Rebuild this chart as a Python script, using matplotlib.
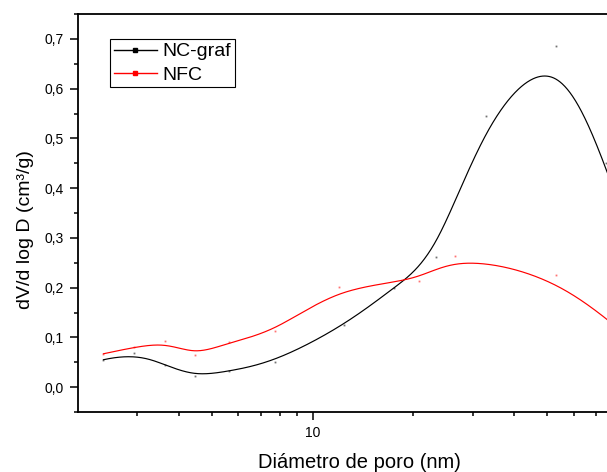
import numpy as np
import matplotlib
matplotlib.use("Agg")
import matplotlib.pyplot as plt
from matplotlib.lines import Line2D
from matplotlib.ticker import FixedLocator, FixedFormatter, NullFormatter

plt.rcParams['font.family'] = ['Liberation Sans', 'DejaVu Sans']

# Pore size distribution (BJH), pore diameter in nm
nc_x = [2.38, 2.93, 3.63, 4.46, 5.65, 7.74, 12.45, 17.5, 23.3, 33.0, 53.1, 75.0, 100.0, 140.0]
nc_y = [0.055, 0.0685, 0.045, 0.022, 0.032, 0.051, 0.124, 0.2, 0.262, 0.544, 0.685, 0.45, 0.2, 0.05]

nfc_x = [2.38, 2.93, 3.63, 4.46, 5.65, 7.74, 12.0, 20.8, 26.5, 53.1, 80.0, 115.0]
nfc_y = [0.067, 0.08, 0.092, 0.064, 0.09, 0.112, 0.2016, 0.2125, 0.264, 0.225, 0.125, 0.03]

series_labels = ["NC-graf", "NFC"]
y_ticks = [0.0, 0.1, 0.2, 0.3, 0.4, 0.5, 0.6, 0.7]
y_ticklabels = ["0,0", "0,1", "0,2", "0,3", "0,4", "0,5", "0,6", "0,7"]
x_ticks = [10]
x_ticklabels = ["10"]


def bspline(px, py, n=1200, k=3):
    """Clamped uniform B-spline using the data points as control points
    (computed in log10(x) so it follows the log axis)."""
    lx = np.log10(np.asarray(px, float))
    py = np.asarray(py, float)
    m = len(lx)
    knots = np.concatenate([np.zeros(k), np.linspace(0, 1, m - k + 1), np.ones(k)])
    t = np.linspace(0, 1, n)
    t[-1] -= 1e-9
    N = np.array([(t >= knots[i]) & (t < knots[i + 1]) for i in range(len(knots) - 1)],
                 dtype=float).T
    for d in range(1, k + 1):
        Nn = np.zeros((n, len(knots) - 1 - d))
        for i in range(len(knots) - 1 - d):
            a = knots[i + d] - knots[i]
            b = knots[i + d + 1] - knots[i + 1]
            term = np.zeros(n)
            if a > 0:
                term += (t - knots[i]) / a * N[:, i]
            if b > 0:
                term += (knots[i + d + 1] - t) / b * N[:, i + 1]
            Nn[:, i] = term
        N = Nn
    return 10 ** (N @ lx), N @ py


fig = plt.figure(figsize=(6.07, 4.72), dpi=100)
ax = fig.add_axes([78 / 607, 1 - 412 / 472, 570 / 607, 398 / 472])

for xs, ys, col in [(nc_x, nc_y, "black"), (nfc_x, nfc_y, "red")]:
    cx, cy = bspline(xs, ys)
    ax.plot(cx, cy, color=col, lw=0.85, solid_capstyle="round")
    ax.plot(xs, ys, ls="none", marker="s", ms=1.3, mew=0, color=col, alpha=0.55)

ax.set_xscale("log")
ax.set_xlim(2, 100)
ax.set_ylim(-0.05, 0.75)

ax.xaxis.set_major_locator(FixedLocator(x_ticks))
ax.xaxis.set_major_formatter(FixedFormatter(x_ticklabels))
ax.xaxis.set_minor_locator(FixedLocator([3, 4, 5, 6, 7, 8, 9, 20, 30, 40, 50, 60, 70, 80, 90]))
ax.xaxis.set_minor_formatter(NullFormatter())
ax.yaxis.set_major_locator(FixedLocator(y_ticks))
ax.yaxis.set_major_formatter(FixedFormatter(y_ticklabels))
ax.yaxis.set_minor_locator(FixedLocator(np.arange(-0.05, 0.76, 0.1)))

for s in ["left", "bottom", "top"]:
    ax.spines[s].set_linewidth(1.3)
ax.spines["right"].set_visible(False)
ax.tick_params(which="major", direction="out", length=6, width=1.1, labelsize=10, pad=4,
               top=False, right=False)
ax.tick_params(which="minor", direction="out", length=3.2, width=1.1, top=False, right=False)

fig.text(359 / 607, 1 - 468 / 472, "Diámetro de poro (nm)", ha="center", va="baseline",
         fontsize=14.5)
fig.text(26 / 607, 1 - 230 / 472, "dV/d log D (cm³/g)", ha="center", va="center",
         rotation=90, fontsize=14)

handles = [Line2D([], [], color="black", lw=1, marker="s", ms=3),
           Line2D([], [], color="red", lw=1, marker="s", ms=3)]
leg = ax.legend(handles, series_labels, loc="upper left",
                bbox_to_anchor=(110 / 607, 1 - 39 / 472), bbox_transform=fig.transFigure,
                fontsize=14, frameon=True, fancybox=False, framealpha=1, edgecolor="black",
                borderpad=0.2, handlelength=2.2, handletextpad=0.3, labelspacing=0.28,
                borderaxespad=0)
leg.get_frame().set_linewidth(0.8)

fig.savefig("out.png", dpi=100)
